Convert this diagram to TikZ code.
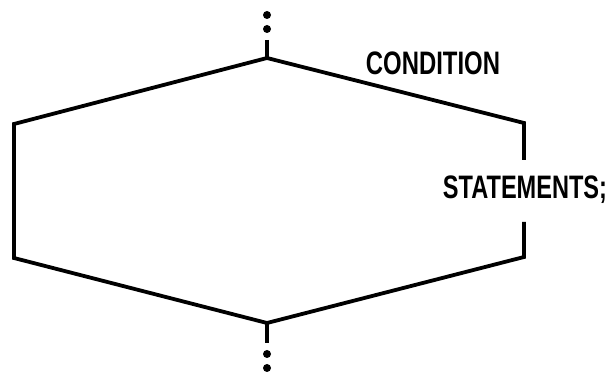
\documentclass[tikz,border=0pt]{standalone}
\usepackage{fontspec}
\setmainfont{Liberation Sans}
\begin{document}
\begin{tikzpicture}[x=1pt,y=-1pt,
  edge/.style={line width=3.8pt,line join=miter,line cap=butt},
  dot/.style={circle,fill=black,inner sep=0pt,minimum size=8pt},
  lbl/.style={inner sep=0pt,font=\fontsize{32.5}{32.5}\selectfont\bfseries}]
\useasboundingbox (0,0) rectangle (614,374);
% vertices
\coordinate (top) at (267,58);
\coordinate (topend) at (267,40);
\coordinate (tl) at (14,124);
\coordinate (tr) at (524,123);
\coordinate (bl) at (14,258);
\coordinate (br) at (524,257);
\coordinate (bot) at (267,323);
\coordinate (botend) at (267,343);
\coordinate (rgap1) at (524,160);
\coordinate (rgap2) at (524,222);
% dots
\node[dot] (d1) at (267,15) {};
\node[dot] (d2) at (267,29) {};
\node[dot] (d3) at (267,354) {};
\node[dot] (d4) at (267,368) {};
% shape
\draw[edge] (topend) -- (top);
\draw[edge] (rgap1) -- (tr) -- (top) -- (tl) -- (bl) -- (bot) -- (br) -- (rgap2);
\draw[edge] (bot) -- (botend);
% labels
\node[lbl,anchor=base] (cond) at (433,75) {\scalebox{0.735}[1]{CONDITION}};
\node[lbl,anchor=base] (stmt) at (525,199) {\scalebox{0.725}[1]{STATEMENTS;}};
\end{tikzpicture}
\end{document}
